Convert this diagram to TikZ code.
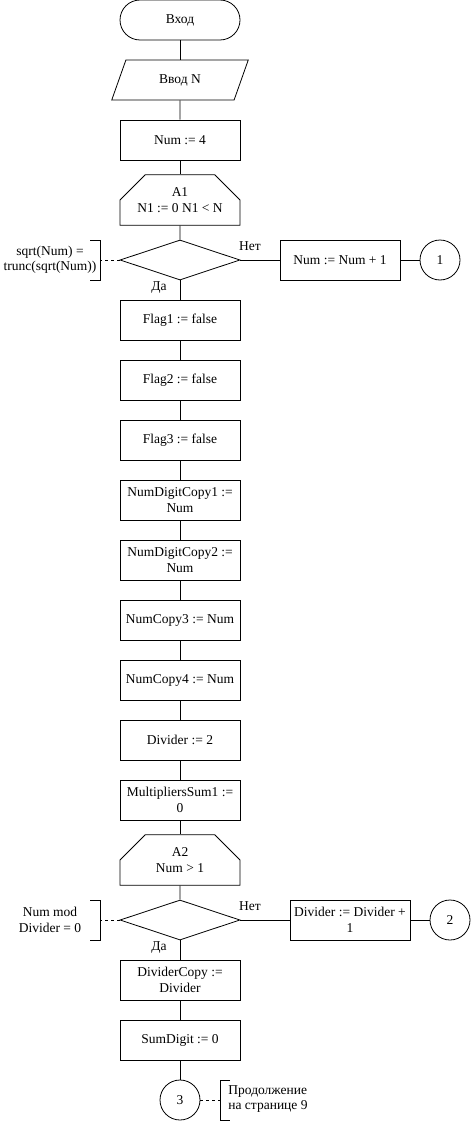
\documentclass[tikz,border=0pt]{standalone}
\usepackage{fontspec}
\setmainfont{Liberation Serif}
\usetikzlibrary{shapes.geometric,shapes.misc}

\begin{document}
\begin{tikzpicture}[x=1pt, y=-1pt, line width=0.8pt,
	every node/.style={font=\fontsize{13.5}{15.5}\selectfont, align=center, inner sep=1pt},
	proc/.style={draw, rectangle, minimum width=120pt, minimum height=40pt},
	term/.style={draw, rectangle, rounded corners=20pt, minimum width=120pt, minimum height=40pt},
	inout/.style={draw, trapezium, trapezium left angle=67, trapezium right angle=113, trapezium stretches=true, minimum width=137pt, minimum height=40pt},
	loopbeg/.style={draw, chamfered rectangle, chamfered rectangle corners={north west, north east}, chamfered rectangle xsep=22pt, chamfered rectangle ysep=12pt, minimum width=120pt, minimum height=40pt},
	decide/.style={draw, diamond, minimum width=120pt, minimum height=40pt},
	conn/.style={draw, circle, minimum size=40pt, inner sep=0pt},
	note/.style={dash pattern=on 3pt off 3pt}]
	\useasboundingbox (0, 0) rectangle (471, 1121);

	\node[term] (start) at (180, 20) {Вход};
	\node[inout] (inp) at (180, 80) {Ввод N};
	\node[proc] (num) at (180, 140) {Num := 4};
	\node[loopbeg] (a1) at (180, 200) {A1\\N1 := 0 N1 < N}; %начало цикла A1
	\node[decide] (d1) at (180, 260) {};
	\node[proc] (inc) at (340, 260) {Num := Num + 1};
	\node[conn] (c1) at (440, 260) {1};
	\node[proc] (f1) at (180, 320) {Flag1 := false};
	\node[proc] (f2) at (180, 380) {Flag2 := false};
	\node[proc] (f3) at (180, 440) {Flag3 := false};
	\node[proc] (dc1) at (180, 500) {NumDigitCopy1 :=\\Num};
	\node[proc] (dc2) at (180, 560) {NumDigitCopy2 :=\\Num};
	\node[proc] (nc3) at (180, 620) {NumCopy3 := Num};
	\node[proc] (nc4) at (180, 680) {NumCopy4 := Num};
	\node[proc] (div) at (180, 740) {Divider := 2};
	\node[proc] (ms) at (180, 800) {MultipliersSum1 :=\\0};
	\node[loopbeg] (a2) at (180, 860) {A2\\Num > 1}; %начало цикла A2
	\node[decide] (d2) at (180, 920) {};
	\node[proc] (divinc) at (350, 920) {Divider := Divider +\\1};
	\node[conn] (c2) at (450, 920) {2};
	\node[proc] (dcp) at (180, 980) {DividerCopy :=\\Divider};
	\node[proc] (sd) at (180, 1040) {SumDigit := 0};
	\node[conn] (c3) at (180, 1100) {3};

	\foreach \a/\b in {start/inp, inp/num, num/a1, a1/d1, d1/f1, f1/f2, f2/f3, f3/dc1, dc1/dc2, dc2/nc3, nc3/nc4, nc4/div, div/ms, ms/a2, a2/d2, d2/dcp, dcp/sd, sd/c3}
		\draw (\a) -- (\b); %основная линия
	\draw (d1) -- (inc);
	\draw (inc) -- (c1);
	\draw (d2) -- (divinc);
	\draw (divinc) -- (c2);

	\node (no1) at (250, 246) {Нет};
	\node (yes1) at (159, 288) {Да};
	\node (no2) at (250, 906) {Нет};
	\node (yes2) at (159, 948) {Да};

	\coordinate (b1) at (100, 260); %комментарий 1
	\draw[note] (d1.west) -- (b1);
	\draw (90, 240) -- (100, 240) -- (100, 280) -- (90, 280);
	\node (t1) at (50, 260) {sqrt(Num) =\\trunc(sqrt(Num))};

	\coordinate (b2) at (100, 920); %комментарий 2
	\draw[note] (d2.west) -- (b2);
	\draw (90, 900) -- (100, 900) -- (100, 940) -- (90, 940);
	\node (t2) at (50, 920) {Num mod\\Divider = 0};

	\coordinate (b3) at (220, 1100); %комментарий 3
	\draw[note] (c3) -- (b3);
	\draw (230, 1080) -- (220, 1080) -- (220, 1120) -- (230, 1120);
	\node[anchor=west, align=left] (t3) at (227, 1099) {Продолжение\\на странице 9};
\end{tikzpicture}
\end{document}
